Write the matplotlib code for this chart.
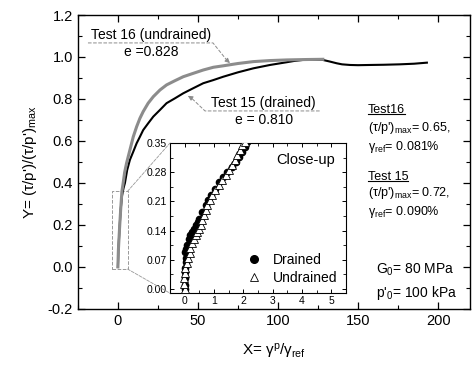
import numpy as np
import matplotlib
matplotlib.use("Agg")
import matplotlib.pyplot as plt
from matplotlib.patches import Rectangle, ConnectionPatch
from matplotlib.lines import Line2D
from matplotlib.ticker import MultipleLocator, FormatStrFormatter

plt.rcParams['font.family'] = ['Liberation Sans', 'DejaVu Sans']
plt.rcParams['mathtext.fontset'] = 'custom'
plt.rcParams['mathtext.rm'] = 'Liberation Sans'
plt.rcParams['mathtext.it'] = 'Liberation Sans:italic'

# main curves
x16 = [0, 0.3, 1.0, 1.7, 2.5, 3.3, 4.2, 5.4, 7.5, 9.6, 11.7, 13.75, 15.8, 18.9,
       22.1, 26.3, 30.4, 35.6, 40.8, 47, 53.3, 59.6, 65.8, 75, 84.6, 95, 105.4,
       118, 128]
y16 = [0, 0.08, 0.18, 0.27, 0.36, 0.40, 0.45, 0.494, 0.557, 0.62, 0.668, 0.708,
       0.740, 0.78, 0.811, 0.843, 0.867, 0.887, 0.906, 0.922, 0.938, 0.951, 0.958,
       0.969, 0.978, 0.983, 0.986, 0.988, 0.989]

x15 = [0, 0.3, 1.0, 1.7, 2.6, 3.5, 4.4, 5.8, 7.5, 9.6, 11.7, 13.75, 15.8, 18.9, 22.1,
       26.3, 30.4, 35.6, 40.8, 47, 53.3, 59.6, 65.8, 75, 84.6, 95, 105.4, 110,
       115.6, 122, 128, 132, 136.7, 140, 145, 150, 157.5, 166, 176, 185, 193]
y15 = [0, 0.08, 0.18, 0.27, 0.34, 0.375, 0.40, 0.462, 0.51, 0.549, 0.589, 0.62, 0.652,
       0.684, 0.716, 0.748, 0.780, 0.803, 0.827, 0.851, 0.875, 0.89, 0.906, 0.927,
       0.946, 0.962, 0.975, 0.981, 0.986, 0.987, 0.986, 0.979, 0.970, 0.965,
       0.962, 0.961, 0.962, 0.963, 0.965, 0.968, 0.973]

# close-up points
xd = [0.0, 0.0, 0.01, 0.02, 0.03, 0.06, 0.06, 0.03, 0.06, 0.09, 0.15, 0.2, 0.26,
      0.32, 0.38, 0.44, 0.49, 0.6, 0.72, 0.8, 0.89, 1.03, 1.17, 1.3, 1.46, 1.6,
      1.74, 1.85, 1.97, 2.05, 2.14, 2.25]
yd = [0.0, 0.01, 0.026, 0.04, 0.05, 0.065, 0.074, 0.089, 0.097, 0.105, 0.121,
      0.13, 0.137, 0.145, 0.153, 0.161, 0.169, 0.185, 0.201, 0.213, 0.225, 0.241,
      0.257, 0.269, 0.281, 0.293, 0.305, 0.317, 0.329, 0.341, 0.353, 0.36]

xu = [0.0, -0.02, -0.02, 0.0, 0.03, 0.08, 0.13, 0.17, 0.2, 0.26, 0.32, 0.38, 0.43,
      0.49, 0.55, 0.6, 0.66, 0.72, 0.77, 0.86, 0.94, 1.05, 1.17, 1.28, 1.4, 1.52,
      1.63, 1.72, 1.8, 1.89, 1.97, 2.05]
yu = [0.0, 0.013, 0.026, 0.038, 0.05, 0.062, 0.074, 0.086, 0.098, 0.11, 0.121,
      0.129, 0.137, 0.145, 0.153, 0.165, 0.177, 0.189, 0.201, 0.213, 0.225, 0.237,
      0.249, 0.261, 0.273, 0.285, 0.297, 0.309, 0.321, 0.333, 0.345, 0.352]

fig = plt.figure(figsize=(4.72, 3.66), dpi=100)
ax = fig.add_axes([0.165, 0.156, 0.831, 0.803])

ax.plot(x15, y15, color='black', lw=1.5, zorder=2)
ax.plot(x16, y16, color='#8c8c8c', lw=2.2, zorder=3)

ax.set_xlim(-25, 220)
ax.set_ylim(-0.2, 1.2)
ax.xaxis.set_major_locator(MultipleLocator(50))
ax.xaxis.set_minor_locator(MultipleLocator(25))
ax.yaxis.set_major_locator(MultipleLocator(0.2))
ax.yaxis.set_minor_locator(MultipleLocator(0.1))
ax.yaxis.set_major_formatter(FormatStrFormatter('%.1f'))
ax.tick_params(which='both', direction='in', top=True, right=True, labelsize=10.5)
ax.tick_params(which='major', length=5, width=0.9)
ax.tick_params(which='minor', length=3, width=0.8)
for s in ax.spines.values():
    s.set_linewidth(1.0)

ax.set_ylabel("Y= (τ/p')/(τ/p')$_\\mathregular{max}$", fontsize=11, labelpad=6)
ax.set_xlabel("X= γ$^\\mathregular{p}$/γ$_\\mathregular{ref}$", fontsize=11, labelpad=10)

# annotations
gray = '#8c8c8c'
ax.text(21, 1.105, "Test 16 (undrained)", fontsize=10, ha='center', va='center')
ax.text(21, 1.024, "e =0.828", fontsize=10, ha='center', va='center')
ax.plot([-18.7, 59.4, 68], [1.067, 1.067, 0.985], ls='--', lw=0.7, color=gray)
ax.annotate("", xy=(70, 0.971), xytext=(68, 0.985),
            arrowprops=dict(arrowstyle='-|>', color=gray, lw=0.7,
                            mutation_scale=7, shrinkA=0, shrinkB=0))

ax.text(91, 0.781, "Test 15 (drained)", fontsize=10, ha='center', va='center')
ax.text(91, 0.700, "e = 0.810", fontsize=10, ha='center', va='center')
ax.plot([126, 54.4, 46], [0.743, 0.743, 0.804], ls='--', lw=0.7, color=gray)
ax.annotate("", xy=(43.7, 0.815), xytext=(46, 0.804),
            arrowprops=dict(arrowstyle='-|>', color=gray, lw=0.7,
                            mutation_scale=7, shrinkA=0, shrinkB=0))

fs_r = 9
t16 = ax.text(156, 0.748, "Test16", fontsize=fs_r, va='center')
ax.text(156, 0.662, "(τ/p')$_\\mathregular{max}$= 0.65,", fontsize=fs_r, va='center')
ax.text(156, 0.571, "γ$_\\mathregular{ref}$= 0.081%", fontsize=fs_r, va='center')
t15 = ax.text(156, 0.430, "Test 15", fontsize=fs_r, va='center')
ax.text(156, 0.350, "(τ/p')$_\\mathregular{max}$= 0.72,", fontsize=fs_r, va='center')
ax.text(156, 0.263, "γ$_\\mathregular{ref}$= 0.090%", fontsize=fs_r, va='center')

ax.text(161, -0.014, "G$_\\mathregular{0}$= 80 MPa", fontsize=10, va='center')
ax.text(161, -0.124, "p'$_\\mathregular{0}$= 100 kPa", fontsize=10, va='center')

# zoom box
ax.add_patch(Rectangle((-3.5, -0.01), 9.5, 0.37, fill=False, ls='--',
                       lw=0.7, ec='#999999'))

# inset
axin = fig.add_axes([0.360, 0.199, 0.373, 0.410])
axin.plot(xd, yd, 'o', color='black', ms=4.5, zorder=3)
axin.plot(xu, yu, '^', mfc='white', mec='black', mew=0.6, ms=5.5, zorder=4)
axin.set_xlim(-0.5, 5.5)
axin.set_ylim(-0.01, 0.35)
axin.xaxis.set_major_locator(MultipleLocator(1))
axin.xaxis.set_minor_locator(MultipleLocator(0.5))
axin.yaxis.set_major_locator(MultipleLocator(0.07))
axin.yaxis.set_minor_locator(MultipleLocator(0.035))
axin.yaxis.set_major_formatter(FormatStrFormatter('%.2f'))
axin.tick_params(which='both', direction='in', top=True, right=True,
                 labelsize=7.5, pad=2)
axin.tick_params(which='major', length=3, width=0.7)
axin.tick_params(which='minor', length=2, width=0.6)
for s in axin.spines.values():
    s.set_linewidth(0.8)
axin.text(0.77, 0.887, "Close-up", transform=axin.transAxes, fontsize=10.5,
          ha='center', va='center')
h1 = Line2D([], [], ls='none', marker='o', color='black', ms=5.5)
h2 = Line2D([], [], ls='none', marker='^', mfc='white', mec='black', mew=0.6, ms=6)
axin.legend([h1, h2], ["Drained", "Undrained"], loc='lower right', frameon=False,
            fontsize=10, handlelength=1.2, handletextpad=0.8, labelspacing=0.3,
            borderaxespad=0.2)

for yy in (0.36, -0.01):
    yfrac = 1.0 if yy > 0 else 0.0
    cp = ConnectionPatch(xyA=(6, yy), coordsA=ax.transData,
                         xyB=(0, yfrac), coordsB=axin.transAxes,
                         ls='--', lw=0.6, color='#999999')
    fig.add_artist(cp)

# underline the test labels
fig.canvas.draw()
r = fig.canvas.get_renderer()
for t in (t16, t15):
    bb = t.get_window_extent(r)
    y0 = bb.y0 + 2
    fig.add_artist(Line2D([bb.x0, bb.x1], [y0, y0], transform=None,
                          color='black', lw=0.8))

fig.savefig("out.png", dpi=100)
